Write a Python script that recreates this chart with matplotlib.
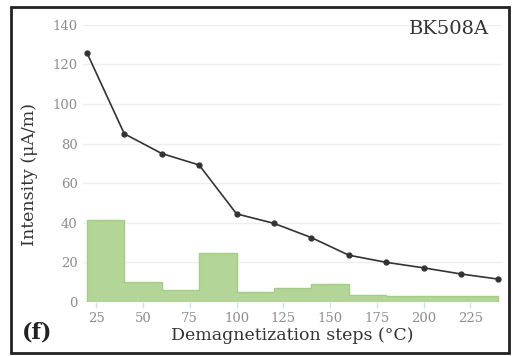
import numpy as np
import matplotlib
matplotlib.use("Agg")
import matplotlib.pyplot as plt
from matplotlib.patches import Rectangle

# demagnetization steps (degC) and remanent intensity (uA/m)
steps = [20, 40, 60, 80, 100, 120, 140, 160, 180, 200, 220, 240]
intensity = [126, 85, 75, 69.2, 44.5, 39.7, 32.5, 23.6, 20.0, 17.2, 14.1, 11.5]
# intensity lost in each step interval (drawn as a step histogram)
loss = [41.2, 10.3, 5.9, 24.7, 4.9, 7.2, 9.1, 3.7, 2.9, 3.1, 3.0]

xticks = [25, 50, 75, 100, 125, 150, 175, 200, 225]
yticks = [0, 20, 40, 60, 80, 100, 120, 140]

fig = plt.figure(figsize=(5.13, 3.56), dpi=100)
ax = fig.add_axes([0.162, 0.152, 0.817, 0.778])

# histogram of losses
ax.stairs(loss, steps, fill=True, facecolor="#b3d698", edgecolor="none", zorder=2)
ax.stairs(loss, steps, fill=False, edgecolor="#a2cd86", linewidth=1.0, zorder=2)

# intensity curve
ax.plot(steps, intensity, color="#333333", linewidth=1.2, marker="o",
        markersize=3.5, zorder=3)

ax.set_xlim(18, 242)
ax.set_ylim(0, 140)
ax.set_xticks(xticks)
ax.set_yticks(yticks)
ax.yaxis.grid(True, color="#eeeeee", linewidth=1.0)
ax.set_axisbelow(True)
for s in ax.spines.values():
    s.set_visible(False)
ax.axhline(0, color="#e6e6e6", linewidth=1.0, zorder=1)

ax.tick_params(axis="x", colors="#cfe0ee", length=4, width=1, pad=3,
               labelcolor="#8c8c8c", labelsize=9.5)
ax.tick_params(axis="y", length=0, pad=4, labelcolor="#8c8c8c", labelsize=9.5)
for lab in ax.get_xticklabels() + ax.get_yticklabels():
    lab.set_family("DejaVu Serif")

ax.set_xlabel("Demagnetization steps (°C)", family="DejaVu Serif",
              fontsize=12.5, color="#333333", labelpad=2)
ax.set_ylabel("Intensity (μA/m)", family="DejaVu Serif",
              fontsize=12.5, color="#333333")
ax.yaxis.set_label_coords(-0.108, 0.46)

fig.text(0.953, 0.918, "BK508A", ha="right", va="center",
         family="DejaVu Serif", fontsize=14, color="#333333")
fig.text(0.043, 0.065, "(f)", ha="left", va="center",
         family="DejaVu Serif", fontsize=16, fontweight="bold", color="#222222")

# outer frame
fig.patches.append(Rectangle((0.022, 0.008), 0.97, 0.972, transform=fig.transFigure,
                             fill=False, edgecolor="#222222", linewidth=2.0))

fig.savefig("out.png", dpi=100)
